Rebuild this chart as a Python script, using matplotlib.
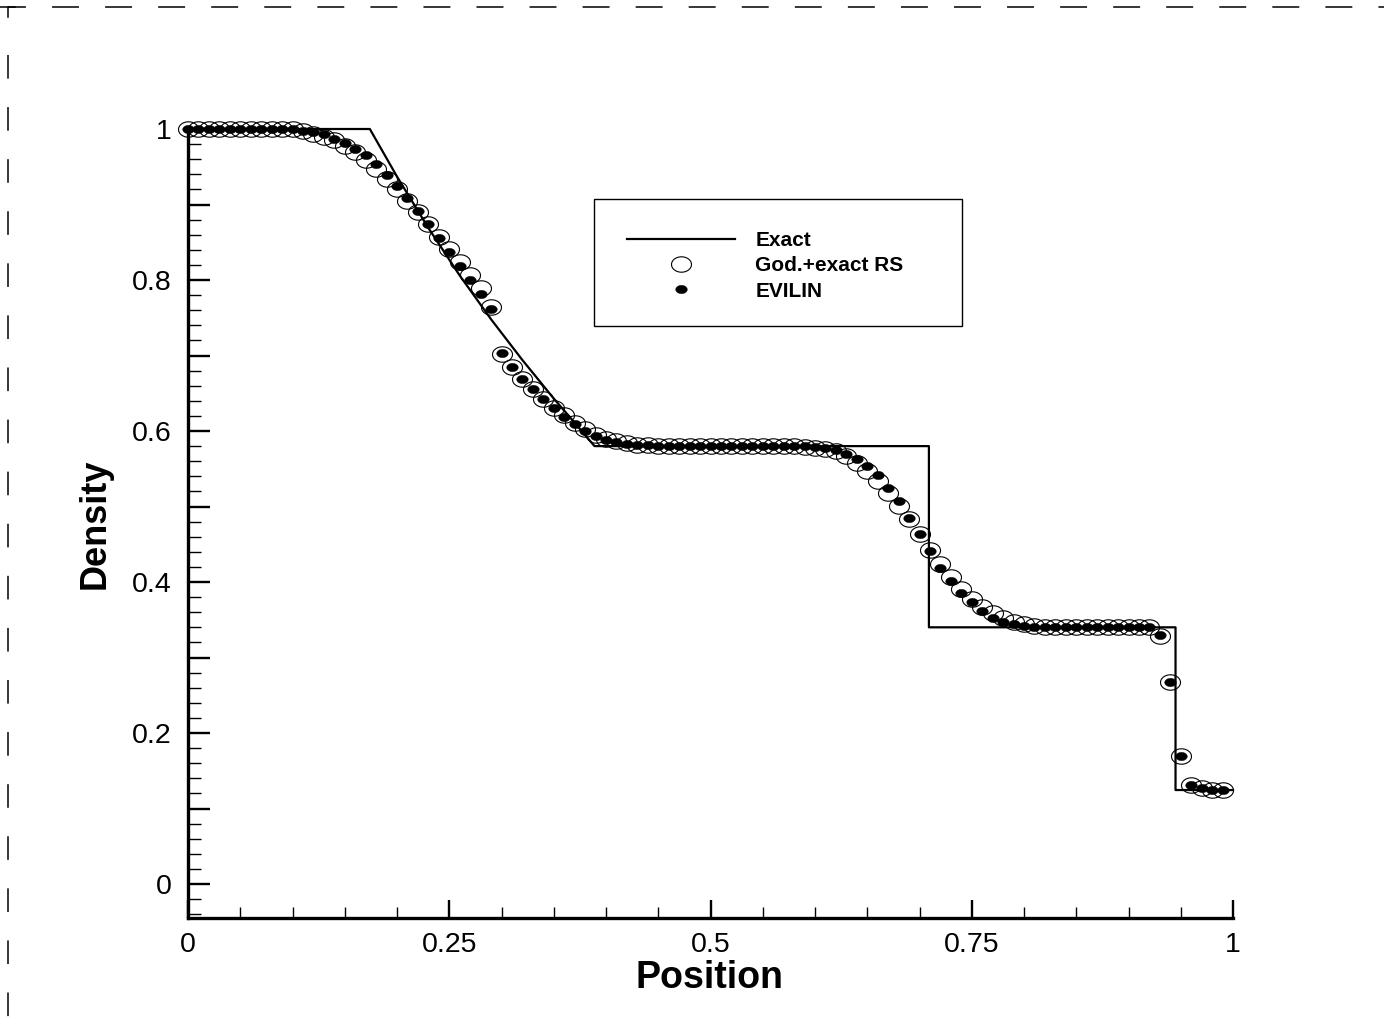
import numpy as np
import matplotlib
matplotlib.use("Agg")
import matplotlib.pyplot as plt
from matplotlib.path import Path
from matplotlib.lines import Line2D
from matplotlib.patches import Rectangle
from matplotlib.ticker import MultipleLocator, FuncFormatter

plt.rcParams['font.family'] = ['Liberation Sans', 'DejaVu Sans']
plt.rcParams['lines.scale_dashes'] = False

# ---------------- data ----------------
exact_x = [0.0, 0.174, 0.20, 0.23, 0.26, 0.29, 0.32, 0.35, 0.37, 0.389,
           0.709, 0.709, 0.945, 0.945, 1.0]
exact_y = [1.0, 1.0, 0.937, 0.869, 0.806, 0.748, 0.694, 0.643, 0.611, 0.580,
           0.580, 0.340, 0.340, 0.1245, 0.1245]

cell_x = [0.00, 0.01, 0.02, 0.03, 0.04, 0.05, 0.06, 0.07, 0.08, 0.09,
          0.10, 0.11, 0.12, 0.13, 0.14, 0.15, 0.16, 0.17, 0.18, 0.19,
          0.20, 0.21, 0.22, 0.23, 0.24, 0.25, 0.26, 0.27, 0.28, 0.29,
          0.30, 0.31, 0.32, 0.33, 0.34, 0.35, 0.36, 0.37, 0.38, 0.39,
          0.40, 0.41, 0.42, 0.43, 0.44, 0.45, 0.46, 0.47, 0.48, 0.49,
          0.50, 0.51, 0.52, 0.53, 0.54, 0.55, 0.56, 0.57, 0.58, 0.59,
          0.60, 0.61, 0.62, 0.63, 0.64, 0.65, 0.66, 0.67, 0.68, 0.69,
          0.70, 0.71, 0.72, 0.73, 0.74, 0.75, 0.76, 0.77, 0.78, 0.79,
          0.80, 0.81, 0.82, 0.83, 0.84, 0.85, 0.86, 0.87, 0.88, 0.89,
          0.90, 0.91, 0.92, 0.93, 0.94, 0.95, 0.96, 0.97, 0.98, 0.99]

godunov_y = [1.000, 1.000, 1.000, 1.000, 1.000, 1.000, 1.000, 1.000, 1.000, 1.000,
             1.000, 0.997, 0.994, 0.990, 0.985, 0.978, 0.969, 0.959, 0.947, 0.934,
             0.920, 0.905, 0.890, 0.874, 0.857, 0.841, 0.824, 0.807, 0.789, 0.764,
             0.702, 0.685, 0.669, 0.655, 0.643, 0.631, 0.621, 0.611, 0.602, 0.595,
             0.590, 0.587, 0.584, 0.582, 0.581, 0.580, 0.580, 0.580, 0.580, 0.580,
             0.580, 0.580, 0.580, 0.580, 0.580, 0.580, 0.580, 0.580, 0.580, 0.579,
             0.578, 0.576, 0.573, 0.567, 0.558, 0.547, 0.534, 0.518, 0.501, 0.483,
             0.463, 0.443, 0.424, 0.407, 0.391, 0.378, 0.367, 0.359, 0.352, 0.347,
             0.344, 0.342, 0.341, 0.340, 0.340, 0.340, 0.340, 0.340, 0.340, 0.340,
             0.340, 0.340, 0.340, 0.328, 0.268, 0.169, 0.131, 0.127, 0.125, 0.124]

evilin_y = [1.000, 1.000, 1.000, 1.000, 1.000, 1.000, 1.000, 1.000, 1.000, 1.000,
            1.000, 0.998, 0.996, 0.993, 0.987, 0.981, 0.974, 0.965, 0.953, 0.939,
            0.924, 0.908, 0.891, 0.874, 0.856, 0.837, 0.819, 0.800, 0.781, 0.761,
            0.703, 0.685, 0.669, 0.655, 0.642, 0.630, 0.619, 0.609, 0.600, 0.593,
            0.588, 0.585, 0.583, 0.582, 0.581, 0.580, 0.580, 0.580, 0.580, 0.580,
            0.580, 0.580, 0.580, 0.580, 0.580, 0.580, 0.580, 0.580, 0.580, 0.580,
            0.579, 0.577, 0.575, 0.570, 0.563, 0.554, 0.542, 0.525, 0.507, 0.485,
            0.463, 0.441, 0.419, 0.401, 0.386, 0.373, 0.362, 0.353, 0.347, 0.344,
            0.342, 0.341, 0.340, 0.340, 0.340, 0.340, 0.340, 0.340, 0.340, 0.340,
            0.340, 0.340, 0.340, 0.330, 0.268, 0.169, 0.131, 0.127, 0.125, 0.124]

x_ticks = [0, 0.25, 0.5, 0.75, 1]
x_ticklabels = ['0', '0.25', '0.5', '0.75', '1']

# ---------------- figure ----------------
W, H = 1384, 1032
fig = plt.figure(figsize=(W / 100, H / 100), dpi=100)
fig.patch.set_facecolor('white')


def fx(px):
    return px / W


def fy(py):
    return 1 - py / H


ax = fig.add_axes([fx(188), fy(918), fx(1233) - fx(188), fy(129) - fy(918)])

# elliptical markers
t = np.linspace(0, 2 * np.pi, 60)
ell_open = Path(np.column_stack([np.cos(t), 0.77 * np.sin(t)]), closed=True)
ell_dot = Path(np.column_stack([np.cos(t), 0.72 * np.sin(t)]), closed=True)

ax.plot(exact_x, exact_y, color='black', lw=1.6, zorder=2, label='Exact',
        clip_on=False)
ax.plot(cell_x, godunov_y, linestyle='none', marker=ell_open, markersize=14.4,
        markerfacecolor='none', markeredgecolor='black', markeredgewidth=0.8,
        zorder=3, clip_on=False, label='God.+exact RS')
ax.plot(cell_x, evilin_y, linestyle='none', marker=ell_dot, markersize=8.3,
        markerfacecolor='black', markeredgecolor='black', markeredgewidth=0.3,
        zorder=4, clip_on=False, label='EVILIN')

ax.set_xlim(0, 1)
ax.set_ylim(-0.045, 1.0)

for s in ['top', 'right']:
    ax.spines[s].set_visible(False)
for s in ['left', 'bottom']:
    ax.spines[s].set_linewidth(2.4)

ax.set_xticks(x_ticks)
ax.set_xticklabels(x_ticklabels)
ax.xaxis.set_minor_locator(MultipleLocator(0.05))
ax.yaxis.set_major_locator(MultipleLocator(0.1))
ax.yaxis.set_minor_locator(MultipleLocator(0.02))


def yfmt(v, pos):
    k = int(round(v * 10))
    if k % 2 != 0:
        return ''
    return '%g' % (k / 10)


ax.yaxis.set_major_formatter(FuncFormatter(yfmt))

ax.tick_params(axis='both', which='both', direction='in', colors='black')
ax.tick_params(axis='y', which='major', length=15.8, width=1.7, pad=12,
               labelsize=20.5)
ax.tick_params(axis='y', which='minor', length=9.4, width=1.0)
ax.tick_params(axis='x', which='major', length=13, width=1.7, pad=10,
               labelsize=20.5)
ax.tick_params(axis='x', which='minor', length=8, width=1.0)

ax.set_ylabel('Density', fontsize=26, fontweight='bold', va='center',
              ha='center', rotation_mode='default')
ax.yaxis.set_label_coords((95 - 188) / 1045, 0.5)
ax.set_xlabel('Position', fontsize=27, fontweight='bold', va='baseline',
              ha='center')
ax.xaxis.set_label_coords((710 - 188) / 1045, (918 - 988) / 789)

# legend (content) + frame
leg = ax.legend(loc='center left', bbox_to_anchor=(fx(627), fy(266)),
                bbox_transform=fig.transFigure, frameon=False, borderpad=0,
                borderaxespad=0, handlelength=5.2, handletextpad=0.96,
                labelspacing=0.29, numpoints=1,
                prop={'size': 15, 'weight': 'bold'})
fig.add_artist(Rectangle((fx(594), fy(326)), fx(962) - fx(594),
                         fy(199) - fy(326), transform=fig.transFigure,
                         fill=False, lw=1.0, ec='black'))

# dashed page border
fig.add_artist(Line2D([fx(-10), fx(W + 10)], [fy(7), fy(7)],
                      transform=fig.transFigure, color='black', lw=1.1,
                      dashes=(19.4, 18.8)))
fig.add_artist(Line2D([fx(8), fx(8), fx(15)], [fy(17), fy(7), fy(7)],
                      transform=fig.transFigure, color='black', lw=1.1))
fig.add_artist(Line2D([fx(8), fx(8)], [fy(55), fy(H + 10)],
                      transform=fig.transFigure, color='black', lw=1.1,
                      dashes=(17, 20.5)))

fig.savefig('out.png', dpi=100, facecolor='white')
